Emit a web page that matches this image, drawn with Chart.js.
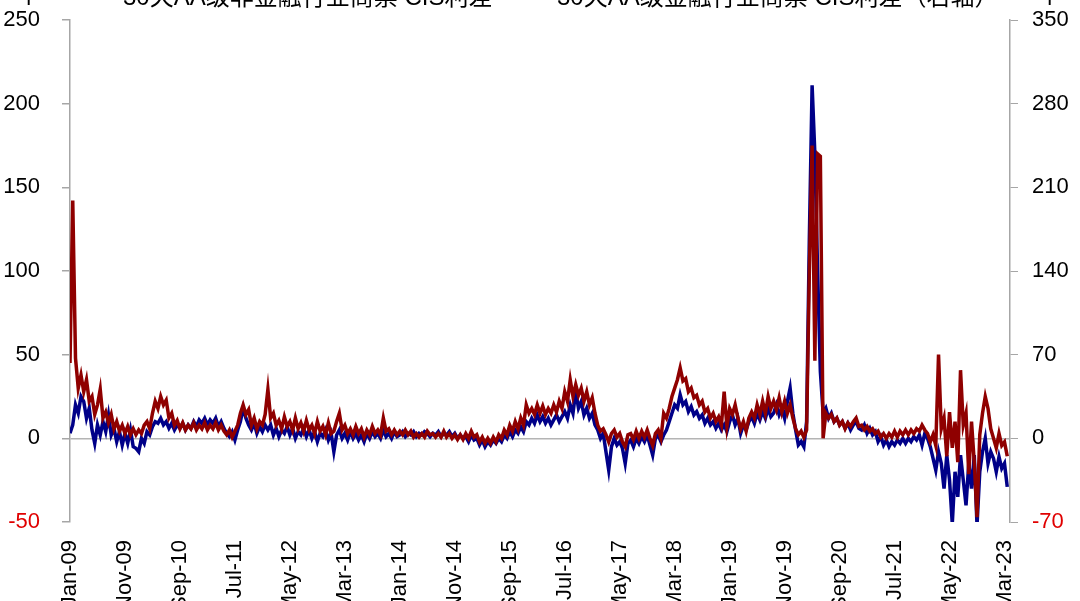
<!DOCTYPE html>
<html>
<head>
<meta charset="utf-8">
<script src="https://cdn.jsdelivr.net/npm/chart.js@4.4.0/dist/chart.umd.min.js"></script>
<style>
html,body{margin:0;padding:0;background:#fff;overflow:hidden}
#wrap{width:1080px;height:601px;position:relative}
</style>
</head>
<body>
<div id="wrap"><canvas id="c" width="1080" height="601"></canvas></div>
<script>
// ---- data ----
const seriesNames = ['30天AA级非金融行业商票 CIS利差', '30天AA级金融行业商票 CIS利差（右轴）'];
const unitLabel = 'bp';
const tickLabels = ['Jan-09','Nov-09','Sep-10','Jul-11','May-12','Mar-13','Jan-14','Nov-14','Sep-15','Jul-16','May-17','Mar-18','Jan-19','Nov-19','Sep-20','Jul-21','May-22','Mar-23'];
const tickMonths = [0,10,20,30,40,50,60,70,80,90,100,110,120,130,140,150,160,170]; // months since Jan-09
const sampleStepMonths = 0.5; // two samples per month, starting Jan-09

// 30天AA级非金融行业商票 CIS利差 (left axis, bp)
const nonFinSpread = [
  3, 8, 20, 15, 25, 22, 12, 18, 5, -3, 8, 2, 10, 4, 14, 2, 6, -2, 4, -4, 3, -3, 5, -5,          // 2009
  -6, -8, 0, -3, 4, 2, 7, 10, 9, 12, 8, 10, 6, 9, 5, 8, 6, 9, 5, 8, 6, 10, 7, 11,               // 2010
  9, 12, 8, 11, 9, 12, 7, 10, 6, 3, 1, 4, -1, 5, 10, 18, 12, 8, 5, 9, 3, 7, 4, 8,               // 2011
  5, 8, 2, 6, 1, 5, 3, 7, 2, 6, 0, 4, 2, 6, 1, 5, 0, 4, -2, 3, 1, 5, -1, 3,                     // 2012
  -8, 2, 5, 0, 3, -1, 4, 0, 3, -1, 2, -2, 3, 0, 4, 1, 3, 0, 5, 1, 3, 0, 4, 1,                   // 2013
  2, 4, 1, 3, 2, 4, 1, 3, 2, 4, 3, 1, 3, 2, 4, 1, 3, 2, 4, 1, 3, 0, 2, 0,                       // 2014
  1, -2, 2, -1, 0, -4, -1, -5, -2, -4, -1, -3, 0, -2, 2, 0, 4, 1, 5, 3, 7, 4, 10, 8,            // 2015
  12, 9, 14, 10, 13, 9, 12, 8, 11, 14, 10, 13, 16, 12, 20, 15, 28, 18, 22, 14, 18, 12, 15, 8,   // 2016
  5, 0, 3, -8, -19, -5, 0, -4, -2, -6, -15, -3, -1, -5, 0, -3, 1, -2, 2, -4, -10, 0, 2, -2,     // 2017
  2, 5, 10, 15, 20, 18, 26, 20, 22, 16, 19, 14, 16, 12, 14, 9, 12, 8, 10, 6, 9, 5, 8, 4,        // 2018
  10, 14, 8, 12, 3, 8, 5, 10, 13, 9, 15, 11, 16, 12, 18, 13, 15, 20, 14, 18, 12, 22, 30, 15,    // 2019
  5, -4, -2, -5, 10, 120, 211, 170, 100, 40, 15, 18, 12, 15, 10, 12, 8, 10, 6, 9, 5, 8, 10, 6,  // 2020
  5, 8, 3, 6, 2, 4, -2, 1, -4, -1, -5, -2, -4, -1, -3, 0, -3, 0, -2, 1, -1, 2, -4, 3,           // 2021
  0, -5, -12, -19, -8, -15, -30, -10, -25, -51, -20, -35, -10, -25, -40, -15, -30, -10, -52, -20, -8, 0, -15, -8, // 2022
  -12, -20, -11, -18, -15, -29                                                                  // 2023
];

// 30天AA级金融行业商票 CIS利差 (right axis, bp)
const finSpread = [
  63, 199, 67, 42, 53, 39, 49, 31, 35, 20, 28, 41, 17, 22, 13, 20, 8, 14, 6, 11, 4, 10, 3, 8,    // 2009
  3, 7, 4, 11, 14, 8, 21, 31, 25, 35, 28, 32, 17, 21, 11, 15, 8, 13, 7, 11, 8, 13, 7, 11,        // 2010
  8, 13, 7, 11, 8, 13, 7, 11, 6, 3, 7, 1, 6, 11, 21, 28, 20, 24, 11, 17, 8, 14, 11, 20,          // 2011
  41, 17, 21, 11, 15, 8, 18, 10, 14, 7, 17, 8, 13, 6, 15, 7, 11, 4, 14, 6, 10, 3, 13, 4,         // 2012
  6, 14, 21, 7, 11, 4, 8, 3, 10, 4, 8, 1, 7, 3, 10, 4, 7, 3, 17, 6, 8, 3, 7, 3,                  // 2013
  6, 3, 7, 3, 6, 1, 4, 1, 4, 1, 6, 3, 4, 1, 4, 1, 6, 1, 4, 0, 3, -1, 3, -1,                      // 2014
  4, 0, 6, 1, 3, -3, 1, -4, 0, -4, 1, -3, 3, 0, 7, 3, 11, 6, 14, 8, 17, 11, 28, 21,              // 2015
  25, 20, 28, 21, 27, 20, 25, 21, 28, 22, 31, 25, 39, 31, 49, 35, 45, 36, 42, 31, 39, 28, 34, 21, // 2016
  11, 6, 8, 3, -3, 4, 7, 1, 4, -3, -7, 3, 4, -1, 6, 0, 6, 1, 7, 0, -6, 4, 7, 0,                  // 2017
  21, 17, 25, 35, 42, 49, 59, 48, 50, 39, 42, 34, 36, 28, 31, 22, 25, 17, 21, 14, 18, 11, 39, 10, // 2018
  25, 20, 28, 17, 8, 14, 6, 17, 22, 17, 28, 20, 31, 21, 35, 25, 31, 24, 34, 22, 31, 21, 28, 17,  // 2019
  8, 3, 6, 1, 7, 140, 245, 65, 238, 236, 0, 21, 17, 20, 14, 17, 11, 14, 8, 13, 10, 14, 17, 10,   // 2020
  11, 7, 10, 6, 8, 4, 6, 1, 4, 0, 4, 1, 6, 1, 6, 3, 7, 3, 7, 4, 8, 6, 11, 7,                     // 2021
  4, -3, 3, -6, 70, 8, 17, -15, 22, -8, 14, -20, 57, 11, 21, -30, 14, -20, -66, 3, 21, 35, 25, 8, // 2022
  0, -8, 4, -6, -3, -15                                                                          // 2023
];

const leftTicks = {min: -50, max: 250, step: 50};
const rightTicks = {min: -70, max: 350, step: 70};

// ---- styles ----
const BLUE = '#000088';
const RED = '#8f0000';
const AXIS_GREY = '#a6a6a6';
const FONT = '"Liberation Sans", Arial, "Noto Sans CJK SC", sans-serif';

const toPoints = arr => arr.map((v, i) => ({x: i * sampleStepMonths, y: v}));

const topLegend = {
  id: 'topLegend',
  afterDraw(chart) {
    const ctx = chart.ctx;
    ctx.save();
    ctx.font = '22px ' + FONT;
    ctx.fillStyle = '#000';
    ctx.textBaseline = 'alphabetic';
    ctx.fillText(unitLabel, 14, 0);
    ctx.fillText(unitLabel, 1035, 0);
    const items = [
      {text: seriesNames[0], color: BLUE, lx: 66, tx: 123},
      {text: seriesNames[1], color: RED, lx: 500, tx: 557}
    ];
    ctx.font = '24px ' + FONT;
    items.forEach(it => {
      ctx.strokeStyle = it.color;
      ctx.lineWidth = 3;
      ctx.beginPath();
      ctx.moveTo(it.lx, -3);
      ctx.lineTo(it.lx + 46, -3);
      ctx.stroke();
      ctx.fillStyle = '#000';
      ctx.fillText(it.text, it.tx, 5);
    });
    ctx.restore();
  }
};

const fitY = s => { s.width = 70; s.paddingTop = 0; s.paddingBottom = 0; };

new Chart(document.getElementById('c'), {
  type: 'line',
  data: {
    datasets: [
      {
        label: seriesNames[0],
        data: toPoints(nonFinSpread),
        yAxisID: 'yL',
        borderColor: BLUE,
        borderWidth: 3.5,
        pointRadius: 0,
        tension: 0,
        order: 2
      },
      {
        label: seriesNames[1],
        data: toPoints(finSpread),
        yAxisID: 'yR',
        borderColor: RED,
        borderWidth: 3.5,
        pointRadius: 0,
        tension: 0,
        order: 1
      }
    ]
  },
  options: {
    responsive: false,
    animation: false,
    devicePixelRatio: 1,
    layout: {padding: {top: 20, left: 0, right: 0, bottom: 0}},
    plugins: {legend: {display: false}, tooltip: {enabled: false}},
    scales: {
      x: {
        type: 'linear',
        min: 0,
        max: 171,
        afterBuildTicks: s => { s.ticks = tickMonths.map(v => ({value: v})); },
        afterFit: s => { s.height = 79; },
        grid: {display: false, drawTicks: false},
        border: {display: false},
        ticks: {
          autoSkip: false,
          maxRotation: 90,
          minRotation: 90,
          padding: 18,
          color: '#000',
          font: {family: FONT, size: 22},
          callback: v => tickLabels[tickMonths.indexOf(v)]
        }
      },
      yL: {
        position: 'left',
        min: leftTicks.min,
        max: leftTicks.max,
        afterFit: fitY,
        ticks: {
          stepSize: leftTicks.step,
          padding: 22,
          font: {family: FONT, size: 22},
          color: c => c.tick.value < 0 ? '#e00000' : '#000'
        },
        grid: {
          color: c => c.tick.value === 0 ? '#b4b4b4' : 'rgba(0,0,0,0)',
          lineWidth: 1.5,
          tickColor: AXIS_GREY,
          tickLength: 8
        },
        border: {color: AXIS_GREY, width: 1.5}
      },
      yR: {
        position: 'right',
        min: rightTicks.min,
        max: rightTicks.max,
        afterFit: fitY,
        ticks: {
          stepSize: rightTicks.step,
          padding: 14,
          font: {family: FONT, size: 22},
          color: c => c.tick.value < 0 ? '#e00000' : '#000'
        },
        grid: {
          drawOnChartArea: false,
          tickColor: AXIS_GREY,
          tickLength: 8
        },
        border: {color: AXIS_GREY, width: 1.5}
      }
    }
  },
  plugins: [topLegend]
});
</script>
</body>
</html>
